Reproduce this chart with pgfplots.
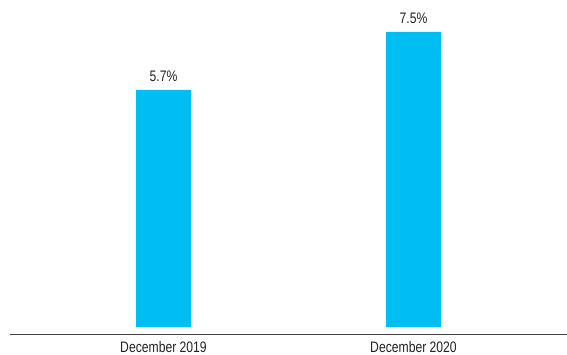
\documentclass[border=0pt]{standalone}
\usepackage{fontspec}
\setmainfont[FakeStretch=0.8]{Liberation Sans}
\usepackage{pgfplots}
\pgfplotsset{compat=1.18}
\usepackage{pgfplotstable}
\definecolor{barcyan}{HTML}{00BEF2}
\definecolor{txt}{HTML}{222222}
\definecolor{axline}{HTML}{444444}
\pgfplotstableread{
x v
0 5.7
1 7.5
}\datatable
\begin{document}
\begin{tikzpicture}
\begin{axis}[
  name=ax,
  width=567bp, height=355bp, scale only axis,
  xmin=-0.654, xmax=1.614,
  ymin=-0.869, ymax=10.147,
  axis line style={draw=none},
  ytick=\empty,
  xtick={0,1},
  xticklabels={December 2019, December 2020},
  major tick length=0pt,
  xticklabel style={anchor=base, yshift=3bp, text=txt, font=\fontsize{15.2bp}{17bp}\selectfont},
  /pgf/number format/assume math mode=true,
  ybar, bar width=55bp,
  point meta=explicit,
  nodes near coords={\pgfmathprintnumber[fixed,precision=1,fixed zerofill]{\pgfplotspointmeta}\%},
  every node near coord/.append style={anchor=base, yshift=8bp, text=txt, font=\fontsize{15.2bp}{17bp}\selectfont},
  clip=false,
]
\addplot[fill=barcyan, draw=none] table[x=x, y expr=\thisrow{v}+1.655, meta=v] {\datatable};
\draw[line width=1.3bp, axline] (axis cs:-0.614,-0.233) -- (axis cs:1.614,-0.233);
\end{axis}
\pgfresetboundingbox
\path[use as bounding box] (ax.south west) rectangle (ax.north east);
\end{tikzpicture}
\end{document}
